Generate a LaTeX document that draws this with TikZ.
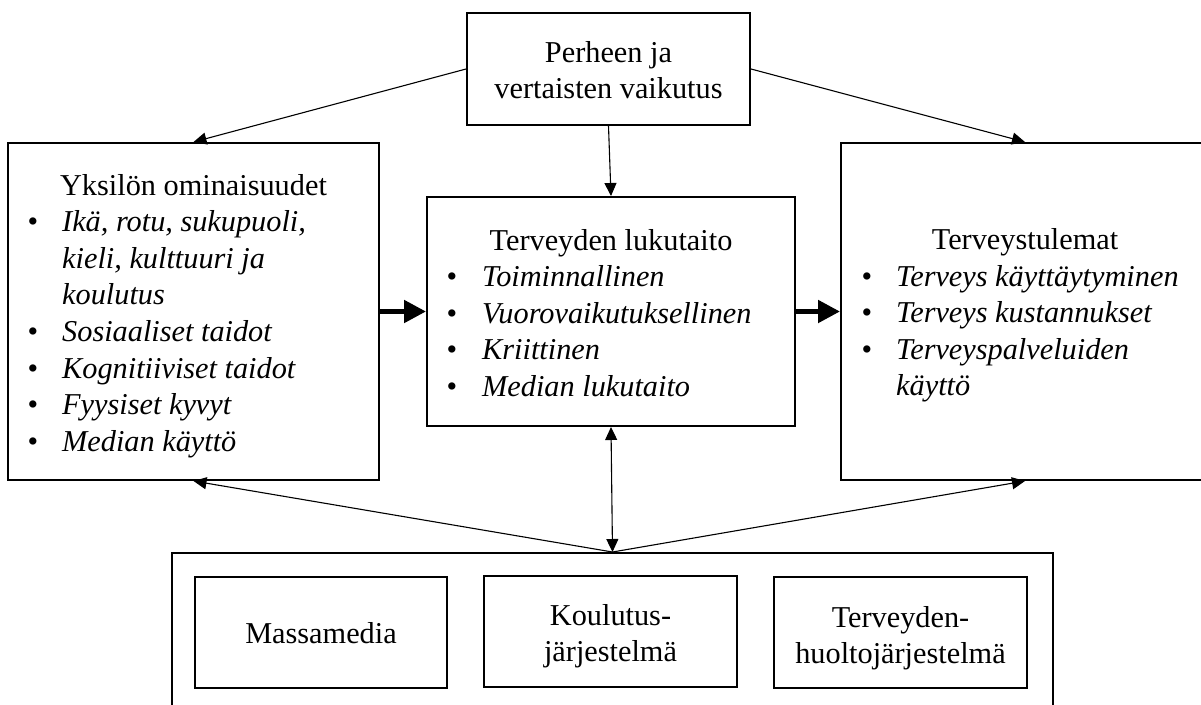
\documentclass[tikz,border=0pt]{standalone}
\usepackage{fontspec}
\setmainfont{Liberation Serif}
\usetikzlibrary{arrows.meta}
\begin{document}
\begin{tikzpicture}[x=1pt,y=-1pt,
  box/.style={draw,line width=2pt,inner sep=0pt},
  txt/.style={inner sep=0pt,font=\fontsize{30.3}{36.6}\selectfont},
  head/.style={txt,anchor=base},
  itm/.style={inner sep=0pt,anchor=base west,font=\fontsize{30.3}{36.6}\selectfont\itshape},
  dot/.style={txt,anchor=base},
  link/.style={line width=1.1pt,-{Triangle[length=13pt,width=12pt]}},
  dlink/.style={line width=1.1pt,{Triangle[length=13pt,width=12pt]}-{Triangle[length=13pt,width=12pt]}},
  flow/.style={line width=5pt,-{Triangle[length=22pt,width=22pt]}}]
\useasboundingbox (0,0) rectangle (1201,704);

% main boxes
\node[box,minimum width=283pt,minimum height=112pt] (peer) at (608.5,69) {};
\node[box,minimum width=371pt,minimum height=337pt] (indiv) at (193.5,311.5) {};
\node[box,minimum width=368pt,minimum height=229pt] (lit) at (611,311.5) {};
\node[box,minimum width=368pt,minimum height=337pt] (out) at (1025,311.5) {};
\node[box,minimum width=881pt,minimum height=170pt] (sys) at (612.5,638) {};
\node[box,minimum width=252pt,minimum height=111pt] (media) at (321,632.5) {};
\node[box,minimum width=253pt,minimum height=111pt] (school) at (610.5,631.5) {};
\node[box,minimum width=253pt,minimum height=111pt] (care) at (900.5,632.5) {};

% family and peers
\node[head] (peerA) at (608.5,62) {Perheen ja};
\node[head] (peerB) at (608.5,98.5) {vertaisten vaikutus};

% individual characteristics
\node[head] (indivH) at (193.5,195) {Yksilön ominaisuudet};
\node[dot] (iD1) at (33,231.6) {\textbullet};
\node[itm] (i1) at (62,231.6) {Ikä, rotu, sukupuoli,};
\node[itm] (i1b) at (62,268.2) {kieli, kulttuuri ja};
\node[itm] (i1c) at (62,304.8) {koulutus};
\node[dot] (iD2) at (33,341.4) {\textbullet};
\node[itm] (i2) at (62,341.4) {Sosiaaliset taidot};
\node[dot] (iD3) at (33,378) {\textbullet};
\node[itm] (i3) at (62,378) {Kognitiiviset taidot};
\node[dot] (iD4) at (33,414.6) {\textbullet};
\node[itm] (i4) at (62,414.6) {Fyysiset kyvyt};
\node[dot] (iD5) at (33,451.2) {\textbullet};
\node[itm] (i5) at (62,451.2) {Median käyttö};

% health literacy
\node[head] (litH) at (611,250) {Terveyden lukutaito};
\node[dot] (lD1) at (452,286.6) {\textbullet};
\node[itm] (l1) at (482,286.6) {Toiminnallinen};
\node[dot] (lD2) at (452,323.2) {\textbullet};
\node[itm] (l2) at (482,323.2) {Vuorovaikutuksellinen};
\node[dot] (lD3) at (452,359.8) {\textbullet};
\node[itm] (l3) at (482,359.8) {Kriittinen};
\node[dot] (lD4) at (452,396.4) {\textbullet};
\node[itm] (l4) at (482,396.4) {Median lukutaito};

% health outcomes
\node[head] (outH) at (1025,249.4) {Terveystulemat};
\node[dot] (oD1) at (867,286) {\textbullet};
\node[itm] (o1) at (896,286) {Terveys käyttäytyminen};
\node[dot] (oD2) at (867,322.6) {\textbullet};
\node[itm] (o2) at (896,322.6) {Terveys kustannukset};
\node[dot] (oD3) at (867,359.2) {\textbullet};
\node[itm] (o3) at (896,359.2) {Terveyspalveluiden};
\node[itm] (o3b) at (896,395.8) {käyttö};

% systems
\node[head] (mediaT) at (321,643) {Massamedia};
\node[head] (schoolA) at (610.5,625) {Koulutus-};
\node[head] (schoolB) at (610.5,661) {järjestelmä};
\node[head] (careA) at (900.5,627) {Terveyden-};
\node[head] (careB) at (900.5,663) {huoltojärjestelmä};

% connectors
\draw[link] (peer.west) -- (indiv.north);
\draw[link] (peer.east) -- (out.north);
\draw[link] (peer.south) -- (lit.north);
\draw[flow] (indiv.east) -- (lit.west);
\draw[flow] (lit.east) -- (out.west);
\draw[dlink] (lit.south) -- (sys.north);
\draw[link] (sys.north) -- (indiv.south);
\draw[link] (sys.north) -- (out.south);
\end{tikzpicture}
\end{document}
